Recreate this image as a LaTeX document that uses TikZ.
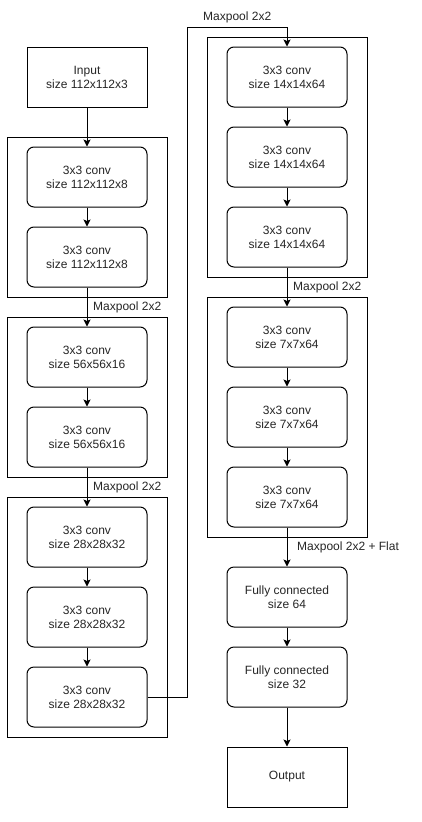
\documentclass[tikz,border=0pt]{standalone}
\usepackage{fontspec}
\setmainfont{Liberation Sans}
\usetikzlibrary{arrows.meta}
\begin{document}
\begin{tikzpicture}[x=1pt,y=-1pt,
  txt/.style={font=\fontsize{12}{14}\selectfont, text=black!85},
  lay/.style={draw, rounded corners=7pt, minimum width=120pt, minimum height=60pt, align=center, txt, line width=1pt, inner sep=0pt},
  sq/.style={draw, minimum width=120pt, minimum height=60pt, align=center, txt, line width=1pt, inner sep=0pt},
  grp/.style={draw, line width=1pt, minimum width=160pt, inner sep=0pt},
  arr/.style={-{Stealth[length=7pt,width=7pt,inset=1.5pt]}, line width=1pt},
  lbl/.style={anchor=west, txt, inner sep=0pt}]
\useasboundingbox (0,0) rectangle (422,822);
\fill[white] (0,0) rectangle (422,822);
% groups
\node[grp, minimum height=160pt] (g1) at (87,217) {};
\node[grp, minimum height=160pt] (g2) at (87,397) {};
\node[grp, minimum height=240pt] (g3) at (87,617) {};
\node[grp, minimum height=240pt] (g4) at (287,157) {};
\node[grp, minimum height=240pt] (g5) at (287,417) {};
% layers
\node[sq] (in) at (87,77) {Input\\size 112x112x3};
\node[lay] (c1a) at (87,177) {3x3 conv\\size 112x112x8};
\node[lay] (c1b) at (87,257) {3x3 conv\\size 112x112x8};
\node[lay] (c2a) at (87,357) {3x3 conv\\size 56x56x16};
\node[lay] (c2b) at (87,437) {3x3 conv\\size 56x56x16};
\node[lay] (c3a) at (87,537) {3x3 conv\\size 28x28x32};
\node[lay] (c3b) at (87,617) {3x3 conv\\size 28x28x32};
\node[lay] (c3c) at (87,697) {3x3 conv\\size 28x28x32};
\node[lay] (c4a) at (287,77) {3x3 conv\\size 14x14x64};
\node[lay] (c4b) at (287,157) {3x3 conv\\size 14x14x64};
\node[lay] (c4c) at (287,237) {3x3 conv\\size 14x14x64};
\node[lay] (c5a) at (287,337) {3x3 conv\\size 7x7x64};
\node[lay] (c5b) at (287,417) {3x3 conv\\size 7x7x64};
\node[lay] (c5c) at (287,497) {3x3 conv\\size 7x7x64};
\node[lay] (f1) at (287,597) {Fully connected\\size 64};
\node[lay] (f2) at (287,677) {Fully connected\\size 32};
\node[sq] (out) at (287,777) {Output};
% labels
\node[lbl] (l1) at (93,307) {Maxpool 2x2};
\node[lbl] (l2) at (93,487) {Maxpool 2x2};
\node[lbl] (l3) at (203,17) {Maxpool 2x2};
\node[lbl] (l4) at (293,287) {Maxpool 2x2};
\node[lbl] (l5) at (297,547) {Maxpool 2x2 + Flat};
% connectors
\draw[arr] (in) -- (c1a);
\draw[arr] (c1a) -- (c1b);
\draw[arr] (c1b) -- (c2a);
\draw[arr] (c2a) -- (c2b);
\draw[arr] (c2b) -- (c3a);
\draw[arr] (c3a) -- (c3b);
\draw[arr] (c3b) -- (c3c);
\coordinate (t1) at (187,27);
\draw[arr] (c3c.east) -| (t1) -| (c4a.north);
\draw[arr] (c4a) -- (c4b);
\draw[arr] (c4b) -- (c4c);
\draw[arr] (c4c) -- (c5a);
\draw[arr] (c5a) -- (c5b);
\draw[arr] (c5b) -- (c5c);
\draw[arr] (c5c) -- (f1);
\draw[arr] (f1) -- (f2);
\draw[arr] (f2) -- (out);
\end{tikzpicture}
\end{document}
